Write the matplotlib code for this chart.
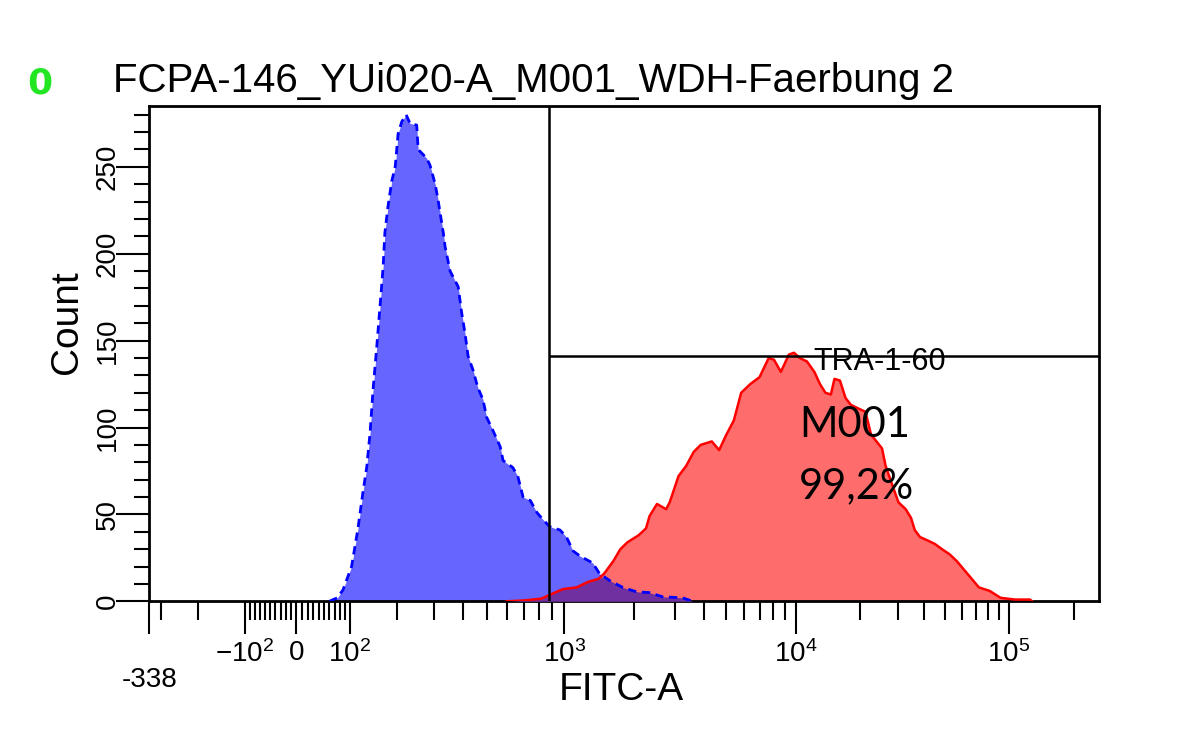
import numpy as np
import matplotlib
matplotlib.use("Agg")
import matplotlib.pyplot as plt
from matplotlib import transforms

# ---- data (FITC-A value, event count) ----
blue_fitc = [60, 75, 86, 103, 115, 125, 133, 140, 146, 154,
             161, 168, 172, 179, 188, 196, 203, 212, 223, 233,
             251, 255, 279, 289, 305, 314, 331, 337, 354, 383,
             396, 409, 421, 441, 461, 484, 500, 531, 566, 581,
             634, 663, 695, 741, 786, 829, 878, 962, 1020, 1090,
             1170, 1330, 1420, 1570, 1790, 2050, 2340, 2660, 3250, 3500,
             3600]
blue_count = [0, 2, 6.5, 20, 41, 62, 77, 97, 121, 146,
              169, 192, 212, 227, 242, 250, 269, 276, 280, 275,
              274, 260, 255, 251, 240, 231, 212, 204, 190, 181,
              166, 154, 141, 133, 123, 116, 106, 98, 89, 81,
              77, 72, 60, 58, 51, 47, 43, 41, 37, 29,
              26, 22, 16, 12, 8, 5.5, 5, 2.6, 2, 0.5,
              0]

red_fitc = [600, 700, 815, 985, 1130, 1260, 1410, 1490, 1630, 1750,
            1880, 2100, 2260, 2340, 2520, 2760, 2860, 3120, 3370, 3630,
            3890, 4340, 4670, 5020, 5400, 5810, 6360, 6970, 7630, 8040,
            8610, 9320, 9800, 10420, 11260, 12200, 12960, 13740, 14580, 15160,
            16090, 17080, 18120, 19590, 21200, 22490, 23870, 25340, 26340, 27930,
            30260, 32730, 34670, 36120, 38200, 41480, 44880, 48470, 52680, 56990,
            61680, 66740, 72230, 81080, 91340, 106700, 125100, 128000]
red_count = [0, 0.5, 1.5, 7, 8, 11, 13, 16, 23, 30,
             34, 38, 42, 49, 56, 53, 57, 72, 78, 86,
             90, 92, 87, 96, 104, 120, 125, 129, 140, 139,
             132, 142, 143, 140, 138, 132, 125, 120, 119, 128,
             127, 117, 113, 111, 109, 96, 92, 88, 78, 69,
             57, 53, 48, 41, 37, 35, 33, 30, 27, 23,
             18, 13, 8, 6, 2, 1, 1, 0]

# gate M001 / TRA-1-60
gate_lo = 870
gate_level = 141
gate_name = "TRA-1-60"
gate_stats = ["M001", "99,2%"]

title = "FCPA-146_YUi020-A_M001_WDH-Faerbung 2"
x_min, x_max = -338, 262144
y_max = 285

x_major = [-338, -100, 0, 100, 1e3, 1e4, 1e5]
x_major_labels = ["", r"$-10^2$", "0", r"$10^2$", r"$10^3$", r"$10^4$", r"$10^5$"]
y_major = list(range(0, 251, 50))
y_minor = list(range(0, 281, 10))

# ---- biexponential-like display scale (calibrated on the decade marks) ----
ASINH_C = 200.0
calib_vals = np.array([-338, -100, 0, 100, 1e3, 1e4, 1e5, 262144])
calib_pos = np.array([149.3, 245, 296.5, 350, 564.5, 796, 1009, 1099.3])
calib_a = np.arcsinh(calib_vals / ASINH_C)
lo_slope = (calib_pos[1] - calib_pos[0]) / (calib_a[1] - calib_a[0])
hi_slope = (calib_pos[-1] - calib_pos[-2]) / (calib_a[-1] - calib_a[-2])
a_ext = np.concatenate([[calib_a[0] - 50], calib_a, [calib_a[-1] + 50]])
pos_ext = np.concatenate([[calib_pos[0] - 50 * lo_slope], calib_pos,
                          [calib_pos[-1] + 50 * hi_slope]])


def biex_fwd(x):
    return np.interp(np.arcsinh(np.asarray(x, dtype=float) / ASINH_C), a_ext, pos_ext)


def biex_inv(p):
    return ASINH_C * np.sinh(np.interp(np.asarray(p, dtype=float), pos_ext, a_ext))


x_minor = ([-300, -200] + list(range(-90, 0, 10)) + list(range(10, 100, 10))
           + [m * 10 ** e for e in (2, 3, 4) for m in range(2, 10)] + [2e5])

TICK_FS = 20
plt.rcParams["font.family"] = ["Liberation Sans", "DejaVu Sans"]
plt.rcParams["mathtext.fontset"] = "custom"
plt.rcParams["mathtext.rm"] = "Liberation Sans"
plt.rcParams["mathtext.it"] = "Liberation Sans"
plt.rcParams["mathtext.default"] = "rm"

fig = plt.figure(figsize=(11.78, 7.52), dpi=100)
ax = fig.add_axes([0.12674, 0.2004, 0.80645, 0.65864])
ax.set_xscale("function", functions=(biex_fwd, biex_inv))
ax.set_xlim(x_min, x_max)
ax.set_ylim(0, y_max)

bx = np.array(blue_fitc, float)
by = np.array(blue_count, float)
rx = np.array(red_fitc, float)
ry = np.array(red_count, float)

ax.fill_between(bx, 0, by, color="#6666ff", lw=0, zorder=1)
ax.fill_between(rx, 0, ry, color="#ff6c6c", lw=0, zorder=2)

# overlap of the two populations
grid = np.union1d(bx, rx)
grid = grid[(grid >= max(bx[0], rx[0])) & (grid <= min(bx[-1], rx[-1]))]
ga = np.arcsinh(grid / ASINH_C)
ov = np.minimum(np.interp(ga, np.arcsinh(bx / ASINH_C), by),
                np.interp(ga, np.arcsinh(rx / ASINH_C), ry))
ax.fill_between(grid, 0, ov, color="#7030a0", lw=0, zorder=3)

ax.plot(rx, ry, color="#ff0000", lw=1.8, zorder=4)
ax.plot(bx, by, color="#0000ff", lw=2.0, ls=(0, (3, 2)), zorder=5)

# gate
ax.axvline(gate_lo, color="black", lw=1.8, zorder=6)
ax.hlines(gate_level, gate_lo, x_max, color="black", lw=1.8, zorder=6)
ax.text(2.48e4, gate_level - 8, gate_name, ha="center", va="baseline",
        fontsize=22, zorder=7)
ax.text(0.684, 0.332, gate_stats[0], transform=ax.transAxes, ha="left",
        va="baseline", family=["Lato", "DejaVu Sans"], fontsize=30, zorder=7)
ax.text(0.684, 0.209, gate_stats[1], transform=ax.transAxes, ha="left",
        va="baseline", family=["Lato", "DejaVu Sans"], fontsize=30, zorder=7)

# axes styling
for sp in ax.spines.values():
    sp.set_linewidth(2)
ax.xaxis.set_minor_locator(matplotlib.ticker.FixedLocator(x_minor))
ax.xaxis.set_minor_formatter(matplotlib.ticker.NullFormatter())
ax.set_xticks(x_major)
ax.set_xticklabels(x_major_labels, fontsize=TICK_FS)
ax.set_yticks(y_major)
ax.set_yticks(y_minor, minor=True)
ax.set_yticklabels([str(v) for v in y_major], fontsize=TICK_FS,
                   rotation=90, rotation_mode="anchor", ha="center", va="baseline")
ax.tick_params(axis="x", which="major", length=24, width=1.5, pad=4)
ax.tick_params(axis="x", which="minor", length=14, width=1.5)
ax.tick_params(axis="y", which="major", length=24, width=1.5, pad=1)
ax.tick_params(axis="y", which="minor", length=11, width=1.5)

low_tf = transforms.blended_transform_factory(ax.transData, fig.transFigure)
ax.text(x_min, 1 - 687 / 752, "-338", transform=low_tf, ha="center",
        va="baseline", fontsize=TICK_FS, clip_on=False)

fig.text(621.5 / 1178, 1 - 700 / 752, "FITC-A", ha="center", va="baseline", fontsize=28)
fig.text(67 / 1178, 1 - 322 / 752, "Count", ha="center", va="center",
         rotation=90, fontsize=28)
fig.text(113 / 1178, 1 - 92 / 752, title, ha="left", va="baseline", fontsize=29)
fig.text(27 / 1178, 1 - 94 / 752, "0", ha="left", va="baseline", fontsize=26,
         family="DejaVu Sans", weight="bold", color="#22e622")

fig.savefig("out.png", dpi=100)
